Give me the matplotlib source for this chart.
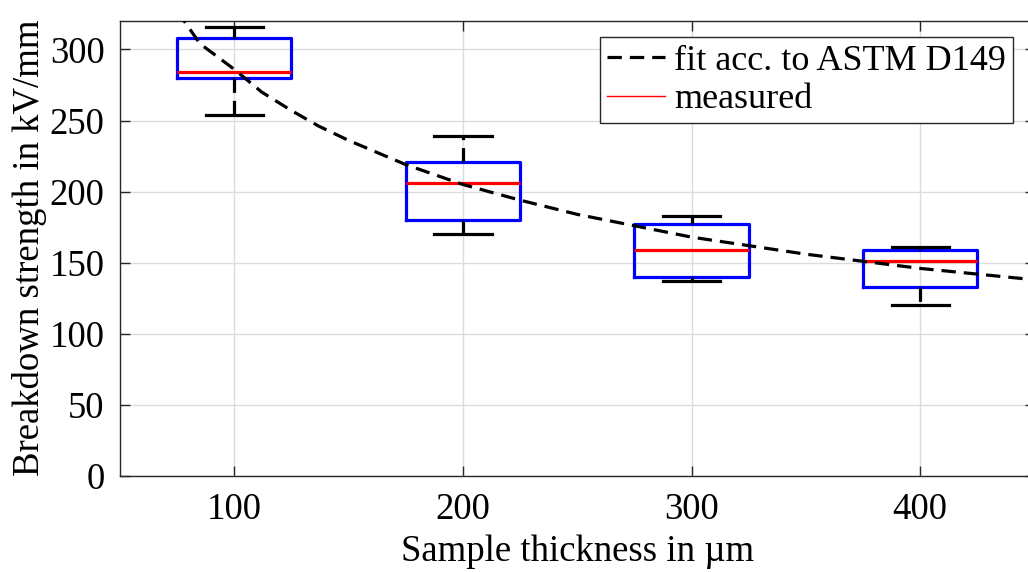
import matplotlib.pyplot as plt

plt.rcParams['font.family'] = ['Liberation Serif', 'DejaVu Serif']

# Box statistics (kV/mm)
thickness = [100, 200, 300, 400]
whisker_low = [254, 170, 137, 120]
q1 = [280, 180, 140, 133]
median = [284, 206, 159, 151]
q3 = [308, 221, 177, 159]
whisker_high = [316, 239, 183, 161]

# Dashed fit curve
fit_x = [75, 85, 100, 112, 125, 137, 150, 175, 200, 225, 250, 275, 300, 325, 350, 375, 400, 425, 450]
fit_y = [327, 304, 286, 270, 257, 246, 236, 219, 205, 194, 184, 176, 168, 162, 156, 151, 146, 142, 138]

fig = plt.figure(figsize=(10.28, 5.72), dpi=100)
ax = fig.add_axes([120/1028, 1 - 476/572, (1034.5 - 120)/1028, (476 - 21)/572])

stats = []
for i in range(len(thickness)):
    stats.append({'whislo': whisker_low[i], 'q1': q1[i], 'med': median[i],
                  'q3': q3[i], 'whishi': whisker_high[i], 'fliers': []})

ax.bxp(stats, positions=thickness, widths=50, capwidths=25,
       boxprops=dict(color='#0000ff', linewidth=2.3),
       whiskerprops=dict(color='black', linewidth=2.3, linestyle=(0, (4.5, 2.5))),
       capprops=dict(color='black', linewidth=2.3),
       medianprops=dict(color='#ff0000', linewidth=2.3),
       manage_ticks=False, zorder=3)

fit_line, = ax.plot(fit_x, fit_y, color='black', linewidth=2.3,
                    linestyle=(0, (4.5, 2.5)), zorder=4)
meas_handle, = ax.plot([], [], color='#ff0000', linewidth=1)

ax.set_xlim(50, 450)
ax.set_ylim(0, 320)
ax.set_xticks([100, 200, 300, 400])
ax.set_yticks([0, 50, 100, 150, 200, 250, 300])
ax.grid(True, color='#dcdcdc', linewidth=1)
ax.set_axisbelow(True)
ax.tick_params(direction='in', length=7, width=1, colors='#262626',
               labelsize=26.5, labelcolor='black', top=True, right=True)
ax.tick_params(axis='y', pad=11)
ax.tick_params(axis='x', pad=12)
for s in ax.spines.values():
    s.set_color('#262626')
    s.set_linewidth(1)

ax.set_xlabel('Sample thickness in µm', fontsize=26.5, labelpad=5)
fig.text(30/1028, 1 - 248/572, 'Breakdown strength in kV/mm', fontsize=26.5,
         rotation=90, ha='center', va='center')

leg = ax.legend([fit_line, meas_handle], ['fit acc. to ASTM D149', 'measured'],
                loc='upper right', bbox_to_anchor=(1013/1028, 1 - 37/572),
                bbox_transform=fig.transFigure, borderaxespad=0,
                fontsize=26, fancybox=False, framealpha=1, edgecolor='#262626',
                handlelength=1.6, handletextpad=0.25, borderpad=0.2, labelspacing=0.15)
leg.get_frame().set_linewidth(1)

plt.savefig('out.png', dpi=100, facecolor='white')
plt.close()
